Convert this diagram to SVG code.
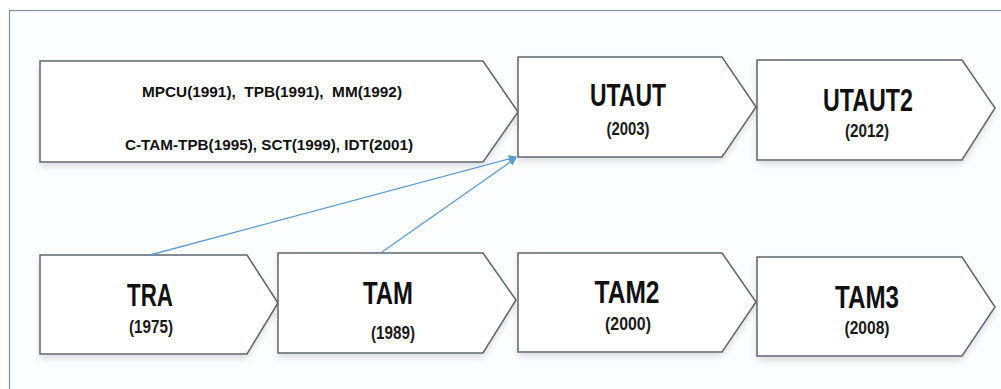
<svg xmlns="http://www.w3.org/2000/svg" width="1001" height="389" viewBox="0 0 1001 389">
  <defs>
    <marker id="arrow" viewBox="0 0 10 10" refX="9" refY="5" markerWidth="8" markerHeight="8" markerUnits="userSpaceOnUse" orient="auto">
      <path d="M0,0 L10,5 L0,10 Z" fill="#5b9bd5"/>
    </marker>
    <filter id="shadow" x="-5%" y="-10%" width="115%" height="130%">
      <feGaussianBlur in="SourceAlpha" stdDeviation="3"/>
      <feOffset dx="0" dy="4" result="b"/>
      <feComponentTransfer><feFuncA type="linear" slope="0.12"/></feComponentTransfer>
      <feMerge><feMergeNode/><feMergeNode in="SourceGraphic"/></feMerge>
    </filter>
    <style>
      .shape { fill: #ffffff; stroke: #5f6670; stroke-width: 1.5; filter: url(#shadow); }
      .title { font-family: "Liberation Sans", Arial, sans-serif; font-weight: bold; font-size: 32px; fill: #111111; text-anchor: middle; }
      .year { font-family: "Liberation Sans", Arial, sans-serif; font-weight: bold; font-size: 18px; fill: #1a1a1a; text-anchor: middle; }
      .list { font-family: "Liberation Sans", Arial, sans-serif; font-weight: bold; font-size: 15.5px; fill: #111111; text-anchor: middle; white-space: pre; }
      .link { stroke: #5b9bd5; stroke-width: 1.3; fill: none; }
    </style>
  </defs>

  <rect x="0" y="0" width="1001" height="389" fill="#ffffff"/>
  <!-- outer frame -->
  <rect x="9.5" y="10.5" width="1010" height="400" fill="#fbfdff" stroke="#7d93a6" stroke-width="1.2"/>

  <g id="node-prior">
    <polygon class="shape" points="40,61 483,61 518,112 483,162 40,162"/>
    <text class="list" x="272" y="97" textLength="260" lengthAdjust="spacingAndGlyphs" xml:space="preserve">MPCU(1991),  TPB(1991),  MM(1992)</text>
    <text class="list" x="269" y="150" textLength="288" lengthAdjust="spacingAndGlyphs">C-TAM-TPB(1995), SCT(1999), IDT(2001)</text>
  </g>

  <g id="node-utaut">
    <polygon class="shape" points="518,57 722,57 756,107 722,157 518,157"/>
    <text class="title" x="628" y="106" textLength="76" lengthAdjust="spacingAndGlyphs">UTAUT</text>
    <text class="year" x="628" y="135" textLength="43" lengthAdjust="spacingAndGlyphs">(2003)</text>
  </g>

  <g id="node-utaut2">
    <polygon class="shape" points="757,60 962,60 995,108 962,160 757,160"/>
    <text class="title" x="868" y="111" textLength="90" lengthAdjust="spacingAndGlyphs">UTAUT2</text>
    <text class="year" x="867" y="137" textLength="44" lengthAdjust="spacingAndGlyphs">(2012)</text>
  </g>

  <g id="node-tra">
    <polygon class="shape" points="40,255 247,255 278,303 247,354 40,354"/>
    <text class="title" x="150" y="306" textLength="46" lengthAdjust="spacingAndGlyphs">TRA</text>
    <text class="year" x="151" y="333" textLength="44" lengthAdjust="spacingAndGlyphs">(1975)</text>
  </g>

  <g id="node-tam">
    <polygon class="shape" points="278,253 483,253 516,300 483,353 278,353"/>
    <text class="title" x="388" y="304" textLength="50" lengthAdjust="spacingAndGlyphs">TAM</text>
    <text class="year" x="393" y="339" textLength="44" lengthAdjust="spacingAndGlyphs">(1989)</text>
  </g>

  <g id="node-tam2">
    <polygon class="shape" points="518,253 722,253 756,302 722,352 518,352"/>
    <text class="title" x="627" y="303" textLength="65" lengthAdjust="spacingAndGlyphs">TAM2</text>
    <text class="year" x="628" y="330" textLength="46" lengthAdjust="spacingAndGlyphs">(2000)</text>
  </g>

  <g id="node-tam3">
    <polygon class="shape" points="757,257 962,257 995,307 962,356 757,356"/>
    <text class="title" x="867" y="308" textLength="64" lengthAdjust="spacingAndGlyphs">TAM3</text>
    <text class="year" x="867" y="334" textLength="45" lengthAdjust="spacingAndGlyphs">(2008)</text>
  </g>

  <g id="connectors">
    <line class="link" x1="150" y1="255" x2="516" y2="157" marker-end="url(#arrow)"/>
    <line class="link" x1="382" y1="252" x2="516" y2="158" marker-end="url(#arrow)"/>
  </g>
</svg>
